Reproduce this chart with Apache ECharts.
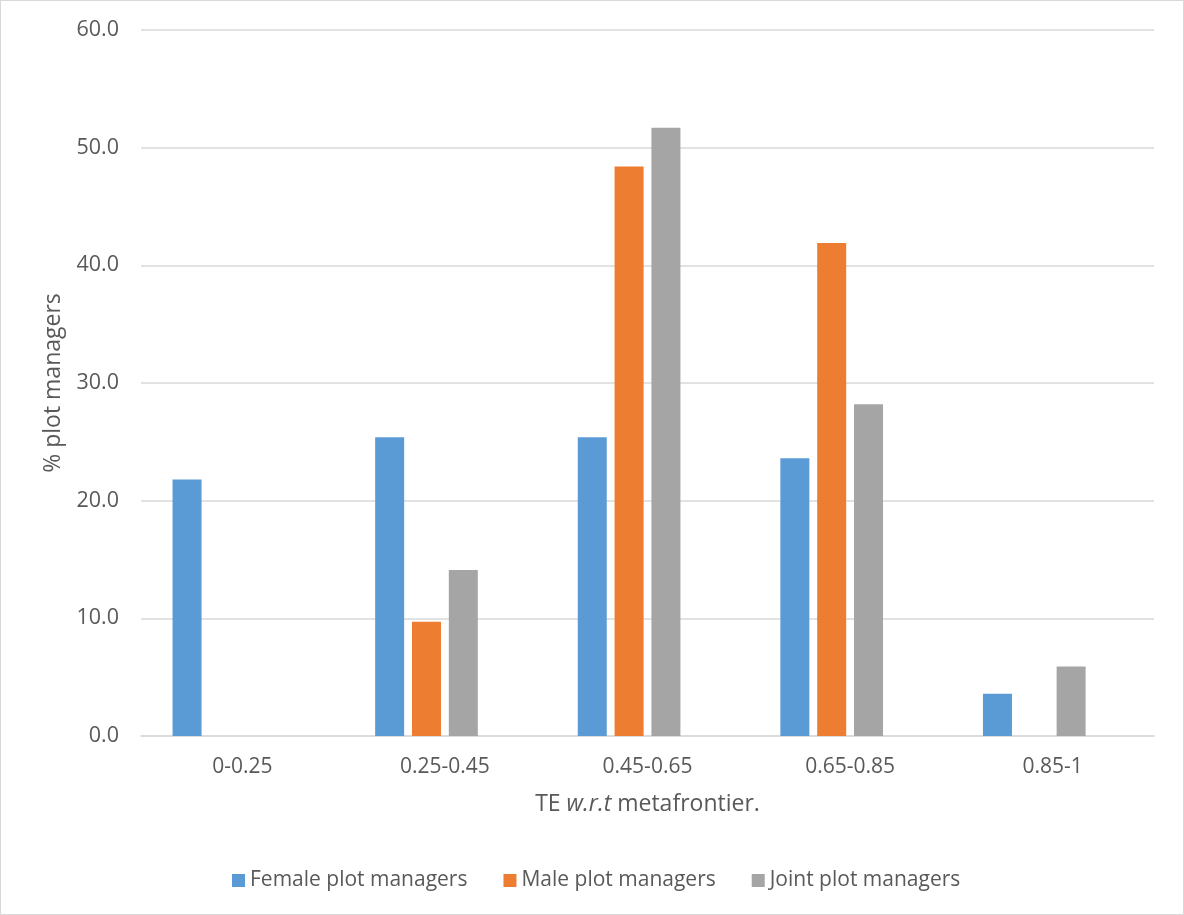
<!DOCTYPE html>
<html>
<head>
<meta charset="utf-8">
<script src="https://cdn.jsdelivr.net/npm/echarts@6/dist/echarts.min.js"></script>
<style>
html,body{margin:0;padding:0;background:#fff;}
#wrap{position:absolute;left:0;top:0;width:1184px;height:915px;box-sizing:border-box;border:1px solid #d9d9d9;}
#chart{width:1182px;height:913px;}
</style>
</head>
<body>
<div id="wrap"><div id="chart"></div></div>
<script>
const categories = ['0-0.25', '0.25-0.45', '0.45-0.65', '0.65-0.85', '0.85-1'];
const femaleValues = [21.8, 25.4, 25.4, 23.6, 3.6];
const maleValues = [0, 9.7, 48.4, 41.9, 0];
const jointValues = [0, 14.1, 51.7, 28.2, 5.9];
const emptySlot = [null, null, null, null, null];
const yTicks = { min: 0, max: 60, interval: 10 };
const seriesNames = ['Female plot managers', 'Male plot managers', 'Joint plot managers'];

const FONT = '"Open Sans", "Noto Sans", sans-serif';
const TXT = '#595959';

const chart = echarts.init(document.getElementById('chart'), null, {renderer: 'canvas'});
function bar(name, data, color) {
  return {
    name: name, type: 'bar', data: data,
    barWidth: 29, barGap: '27%',
    itemStyle: { color: color },
    emphasis: { disabled: true }
  };
}
chart.setOption({
  animation: false,
  textStyle: { fontFamily: FONT },
  grid: { left: 140, right: 29, top: 29, bottom: 178, containLabel: false },
  legend: {
    data: seriesNames,
    left: 226, top: 864,
    itemWidth: 13, itemHeight: 13, itemGap: 36,
    icon: 'rect',
    textStyle: { fontFamily: FONT, fontSize: 21, color: TXT, padding: [0, 0, 0, 0] }
  },
  xAxis: {
    type: 'category',
    data: categories,
    name: 'TE {i|w.r.t} metafrontier.',
    nameLocation: 'middle',
    nameGap: 57,
    nameTextStyle: {
      fontFamily: FONT, fontSize: 23, color: TXT,
      rich: { i: { fontFamily: FONT, fontSize: 23, color: TXT, fontStyle: 'italic' } }
    },
    axisLine: { lineStyle: { color: '#d9d9d9', width: 1.5 } },
    axisTick: { show: false },
    axisLabel: { fontFamily: FONT, fontSize: 21, color: TXT, margin: 21 }
  },
  yAxis: {
    type: 'value',
    min: yTicks.min, max: yTicks.max, interval: yTicks.interval,
    name: '% plot managers',
    nameLocation: 'middle',
    nameGap: 76,
    nameRotate: 90,
    nameTextStyle: { fontFamily: FONT, fontSize: 23, color: TXT },
    axisLine: { show: false },
    axisTick: { show: false },
    splitLine: { lineStyle: { color: '#d9d9d9', width: 1.5 } },
    axisLabel: { fontFamily: FONT, fontSize: 21.5, color: TXT, margin: 22,
      formatter: v => v.toFixed(1) }
  },
  series: [
    bar(seriesNames[0], femaleValues, '#5B9BD5'),
    bar(seriesNames[1], maleValues, '#ED7D31'),
    bar(seriesNames[2], jointValues, '#A5A5A5'),
    bar('', emptySlot, 'rgba(0,0,0,0)')
  ]
});
</script>
</body>
</html>
